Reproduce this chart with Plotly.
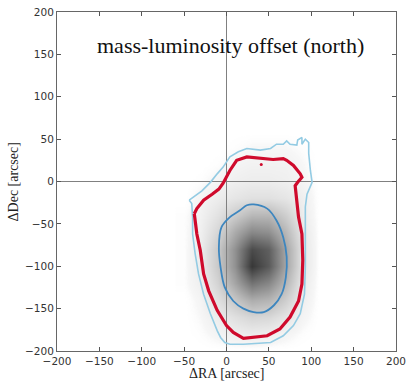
import plotly.graph_objects as go

# ---- data ----
# density grid (darkness 0..1) of the offset histogram
grid_x = [-50, -30, -10, 10, 30, 50, 70, 90, 110]
grid_y = [60, 40, 20, 0, -20, -40, -60, -80, -100, -120, -140, -160, -180, -200]
density = [
    [0.00, 0.00, 0.00, 0.00, 0.00, 0.00, 0.00, 0.00, 0.00],
    [0.00, 0.00, 0.00, 0.01, 0.02, 0.02, 0.02, 0.01, 0.00],
    [0.00, 0.00, 0.01, 0.03, 0.04, 0.04, 0.04, 0.02, 0.00],
    [0.00, 0.01, 0.03, 0.05, 0.06, 0.06, 0.05, 0.03, 0.00],
    [0.00, 0.03, 0.06, 0.09, 0.11, 0.11, 0.09, 0.05, 0.00],
    [0.01, 0.04, 0.10, 0.19, 0.27, 0.27, 0.18, 0.06, 0.00],
    [0.01, 0.05, 0.15, 0.32, 0.46, 0.43, 0.27, 0.08, 0.00],
    [0.01, 0.06, 0.20, 0.42, 0.70, 0.62, 0.34, 0.09, 0.00],
    [0.01, 0.06, 0.20, 0.42, 0.78, 0.64, 0.34, 0.09, 0.00],
    [0.01, 0.05, 0.16, 0.34, 0.54, 0.46, 0.27, 0.07, 0.00],
    [0.00, 0.03, 0.11, 0.21, 0.31, 0.28, 0.18, 0.05, 0.00],
    [0.00, 0.02, 0.06, 0.11, 0.15, 0.14, 0.09, 0.03, 0.00],
    [0.00, 0.01, 0.03, 0.05, 0.06, 0.05, 0.03, 0.01, 0.00],
    [0.00, 0.00, 0.00, 0.00, 0.00, 0.00, 0.00, 0.00, 0.00],
]

# inner (1-sigma) contour
inner_x = [32, 48, 59, 67, 71, 70, 65, 56, 44, 32, 20, 8, -2, -7, -9, -6, 4, 16, 24, 32]
inner_y = [-27, -32, -46, -66, -89, -113, -133, -146, -154, -154, -150, -141, -125, -101, -78, -54, -42, -34, -28, -27]

# red (2-sigma) contour
red_x = [-38, -35, -31, -27, -21, -11, 0, 8, 20, 36, 48, 63, 75, 85, 89, 90, 89, 85, 82, 81,
         84, 89, 87, 79, 71, 67, 55, 40, 24, 12, 4, -4, -9, -17, -27, -35, -38]
red_y = [-38, -62, -81, -109, -129, -152, -170, -178, -185, -183, -182, -174, -160, -141, -121, -93, -62, -42, -15, -5,
         -1, 5, 9, 19, 25, 27, 26, 27, 29, 25, 13, -2, -9, -15, -22, -32, -38]

# outer (3-sigma) contour
outer_x = [-44, -41, -40, -40, -37, -33, -27, -19, -11, -7, -2, 4, 20, 36, 52, 67, 79, 87, 92, 93,
           93, 93, 95, 101, 99, 97, 97, 93, 89, 89, 84, 83, 75, 71, 67, 59, 52, 40, 24, 14,
           4, -4, -11, -19, -29, -39, -44]
outer_y = [-22, -26, -42, -62, -85, -109, -133, -156, -176, -184, -190, -192, -192, -191, -190, -182, -170, -156, -133, -101,
           -62, -30, -15, -1, 13, 33, 46, 50, 44, 52, 49, 43, 44, 48, 44, 44, 39, 37, 39, 35,
           29, 17, 9, -1, -11, -19, -22]

stray_x = [41]
stray_y = [20]

ref_line = [-200, 200]
ref_zero = [0, 0]

ticks = [-200, -150, -100, -50, 0, 50, 100, 150, 200]
tick_text = ["\u2212200", "\u2212150", "\u2212100", "\u221250", "0", "50", "100", "150", "200"]

fig = go.Figure()
fig.add_trace(go.Heatmap(x=grid_x, y=grid_y, z=density, zmin=0, zmax=1, zsmooth="best",
                         colorscale=[[0, "rgba(255,255,255,0)"], [0.02, "#f7f7f7"], [1, "#000000"]],
                         showscale=False, hoverinfo="skip"))
fig.add_trace(go.Scatter(x=ref_line, y=ref_zero, mode="lines", line=dict(color="#808080", width=1)))
fig.add_trace(go.Scatter(x=ref_zero, y=ref_line, mode="lines", line=dict(color="#808080", width=1)))
fig.add_trace(go.Scatter(x=outer_x, y=outer_y, mode="lines", line=dict(color="#93cbe3", width=1.6)))
fig.add_trace(go.Scatter(x=red_x, y=red_y, mode="lines", line=dict(color="#cf0a2c", width=3.2)))
fig.add_trace(go.Scatter(x=inner_x, y=inner_y, mode="lines", line=dict(color="#3d86bf", width=1.8, shape="spline")))
fig.add_trace(go.Scatter(x=stray_x, y=stray_y, mode="markers", marker=dict(color="#cf0a2c", size=3)))

axis_common = dict(range=[-200, 200], tickvals=ticks, ticktext=tick_text, ticks="inside", ticklen=4,
                   tickcolor="#555", showline=True, linecolor="#666", linewidth=1, mirror="allticks",
                   showgrid=False, zeroline=False, automargin=False,
                   tickfont=dict(family="DejaVu Sans", size=10.5, color="#333"))

title_font = dict(family="Liberation Serif", size=14, color="#222")

fig.update_layout(
    width=408, height=382,
    margin=dict(l=57, r=12, t=12, b=31),
    paper_bgcolor="white", plot_bgcolor="white",
    showlegend=False,
    xaxis=dict(**axis_common),
    yaxis=dict(**axis_common),
    annotations=[
        dict(x=5, y=161, xref="x", yref="y", text="mass-luminosity offset (north)", showarrow=False,
             font=dict(family="Liberation Serif", size=22, color="#111")),
        dict(x=0.5, y=-31 / 339, xref="paper", yref="paper", text="\u0394RA [arcsec]", showarrow=False,
             xanchor="center", yanchor="bottom", borderpad=0, font=title_font),
        dict(x=-0.127, y=0.5, xref="paper", yref="paper", text="\u0394Dec [arcsec]", showarrow=False,
             textangle=-90, xanchor="center", yanchor="middle", font=title_font),
    ],
)

fig.write_html("out.html")
